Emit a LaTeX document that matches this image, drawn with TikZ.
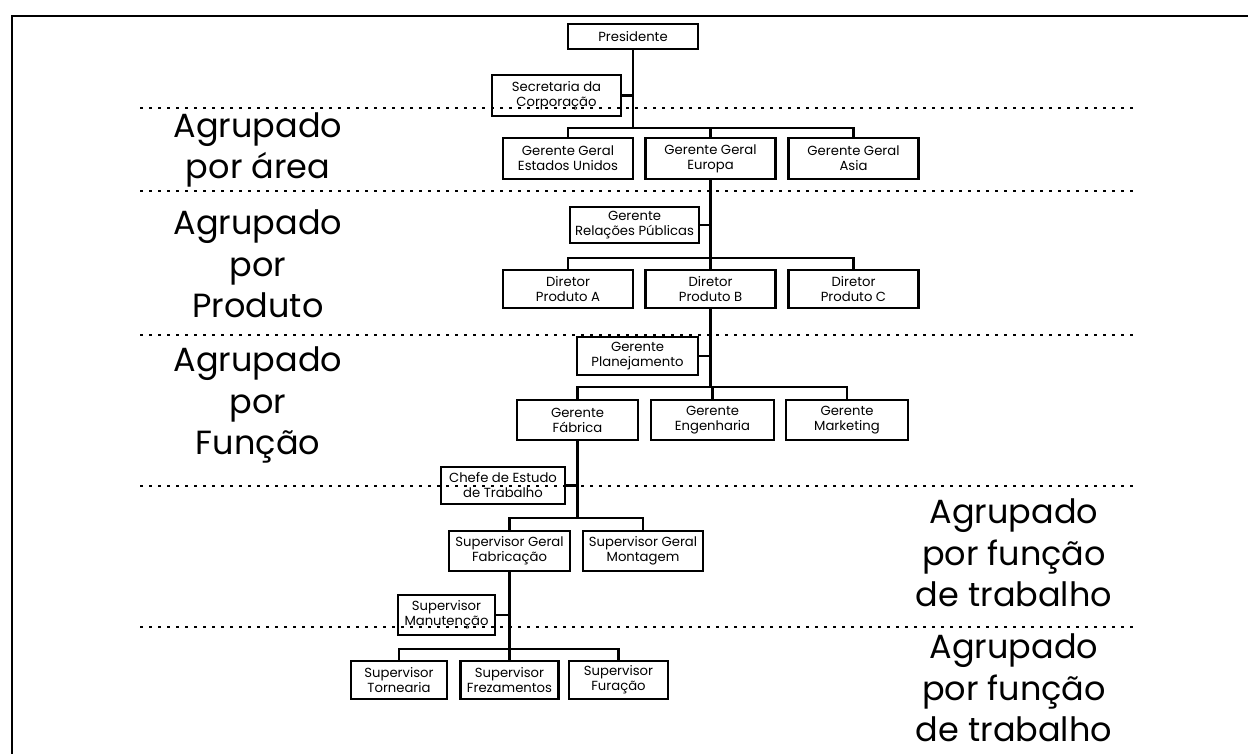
\documentclass[tikz,border=0pt]{standalone}
\usepackage{fontspec}
\setmainfont{Poppins}
\begin{document}
\begin{tikzpicture}[x=1pt,y=-1pt,
  box/.style={draw, line width=2.1pt, inner sep=0pt, align=center, font=\fontsize{13.2}{15}\selectfont},
  wire/.style={line width=2.9pt},
  sepline/.style={line width=2.6pt, dash pattern=on 2.6pt off 6.4pt},
  grp/.style={align=center, font=\fontsize{33.5}{41.5}\selectfont},
  frame/.style={line width=2.5pt}
]
\useasboundingbox (0,0) rectangle (1248,754);
\draw[frame] (12,754) -- (12,16) -- (1248,16);

% separators
\draw[sepline] (140,108) -- (1135,108);
\draw[sepline] (140,191) -- (1135,191);
\draw[sepline] (140,335) -- (1135,335);
\draw[sepline] (140,486) -- (1135,486);
\draw[sepline] (140,627) -- (1135,627);

% group labels
\node[grp] (g1) at (258,150) {Agrupado\\por área};
\node[grp] (g2) at (258,264) {Agrupado\\por\\Produto};
\node[grp] (g3) at (258,405) {Agrupado\\por\\Função};
\node[grp] (g4) at (1014,553) {Agrupado\\por função\\de trabalho};
\node[grp] (g5) at (1014,688) {Agrupado\\por função\\de trabalho};

% bar levels
\coordinate (b1) at (0,128);
\coordinate (b2) at (0,258);
\coordinate (b3) at (0,387);
\coordinate (b4) at (0,518);
\coordinate (b5) at (0,649);

% boxes
\node[box, minimum width=130pt, minimum height=25pt] (pres) at (633,36.5) {Presidente};
\node[box, minimum width=129pt, minimum height=41pt] (sec) at (556.5,95.5) {Secretaria da\\Corporação};
\node[box, minimum width=130pt, minimum height=41pt] (gus) at (568,158.5) {Gerente Geral\\Estados Unidos};
\node[box, minimum width=130pt, minimum height=41pt] (geu) at (710.5,158.5) {Gerente Geral\\Europa};
\node[box, minimum width=130pt, minimum height=41pt] (gas) at (853.5,158.5) {Gerente Geral\\Asia};

\node[box, minimum width=129pt, minimum height=36pt] (rp) at (634.5,225) {Gerente\\Relações Públicas};
\node[box, minimum width=130pt, minimum height=38pt] (dA) at (568,289) {Diretor\\Produto A};
\node[box, minimum width=130pt, minimum height=38pt] (dB) at (710.5,289) {Diretor\\Produto B};
\node[box, minimum width=130pt, minimum height=38pt] (dC) at (853.5,289) {Diretor\\Produto C};

\node[box, minimum width=121pt, minimum height=38pt] (plan) at (637.5,356) {Gerente\\Planejamento};
\node[box, minimum width=121pt, minimum height=40pt] (gF) at (577.5,420) {Gerente\\Fábrica};
\node[box, minimum width=123pt, minimum height=40pt] (gE) at (712.5,420) {Gerente\\Engenharia};
\node[box, minimum width=122pt, minimum height=40pt] (gM) at (847,420) {Gerente\\Marketing};

\node[box, minimum width=124pt, minimum height=37pt] (chefe) at (503,485.5) {Chefe de Estudo\\de Trabalho};
\node[box, minimum width=121pt, minimum height=40pt] (sF) at (509.5,551) {Supervisor Geral\\Fabricação};
\node[box, minimum width=120pt, minimum height=40pt] (sM) at (643,551) {Supervisor Geral\\Montagem};

\node[box, minimum width=97pt, minimum height=40pt] (man) at (446.5,615) {Supervisor\\Manutenção};
\node[box, minimum width=96pt, minimum height=38pt] (sT) at (399,680) {Supervisor\\Tornearia};
\node[box, minimum width=98pt, minimum height=38pt] (sFz) at (509.5,680) {Supervisor\\Frezamentos};
\node[box, minimum width=99pt, minimum height=38pt] (sFu) at (618.5,680) {Supervisor\\Furação};

% connectors
\draw[wire] (pres.south) -- (pres.south |- b1);
\draw[wire] (gus.north) |- (gas.north |- b1) -- (gas.north);
\draw[wire] (geu.north) -- (geu.north |- b1);
\draw[wire] (sec.east) -- (sec.east -| pres.south);

\draw[wire] (geu.south) -- (geu.south |- b2);
\draw[wire] (dA.north) |- (dC.north |- b2) -- (dC.north);
\draw[wire] (dB.north) -- (dB.north |- b2);
\draw[wire] (rp.east) -- (rp.east -| geu.south);

\draw[wire] (dB.south) -- (dB.south |- b3);
\draw[wire] (gF.north) |- (gM.north |- b3) -- (gM.north);
\draw[wire] (gE.north) -- (gE.north |- b3);
\draw[wire] (plan.east) -- (plan.east -| dB.south);

\draw[wire] (gF.south) -- (gF.south |- b4);
\draw[wire] (sF.north) |- (sM.north |- b4) -- (sM.north);
\draw[wire] (chefe.east) -- (chefe.east -| gF.south);

\draw[wire] (sF.south) -- (sF.south |- b5);
\draw[wire] (sT.north) |- (sFu.north |- b5) -- (sFu.north);
\draw[wire] (sFz.north) -- (sFz.north |- b5);
\draw[wire] (man.east) -- (man.east -| sF.south);
\end{tikzpicture}
\end{document}
